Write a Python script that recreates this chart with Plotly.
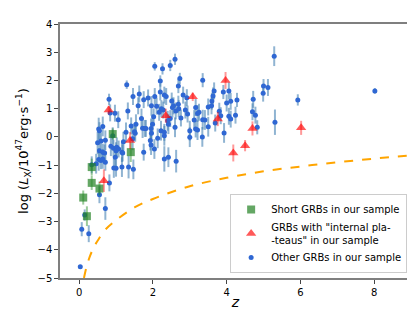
import plotly.graph_objects as go

# ---- data ----
blue_z = [0.03, 0.07, 0.26, 0.15, 0.55, 0.71, 0.82, 0.34, 0.46, 0.53, 0.59, 0.64, 0.71, 0.69, 0.55,
          0.64, 0.50, 0.59, 0.71, 0.53, 0.64, 0.55, 0.81, 0.84, 0.97, 1.06, 0.91, 0.86, 0.93, 1.02,
          1.00, 1.07, 1.16, 1.18, 0.98, 0.94, 1.00, 1.16, 1.34, 1.47, 1.20, 1.27, 1.29, 1.32, 1.41,
          1.45, 1.46, 1.52, 1.54, 1.50, 1.60, 1.63, 1.69, 1.72, 1.75, 1.75, 1.78, 1.81, 1.87, 1.93,
          1.95, 1.96, 1.95, 1.96, 1.99, 2.02, 2.04, 2.05, 2.05, 2.10, 2.13, 2.17, 2.20, 2.20, 2.22,
          2.26, 2.28, 2.31, 2.31, 2.31, 2.36, 2.42, 2.42, 2.47, 2.47, 2.51, 2.53, 2.60, 2.60, 2.63,
          2.69, 2.69, 2.73, 2.76, 2.82, 2.88, 2.92, 2.94, 3.00, 3.00, 3.12, 3.16, 3.21, 3.25, 3.34,
          3.35, 3.41, 3.50, 3.50, 3.59, 3.60, 3.63, 3.66, 3.69, 3.80, 3.84, 3.91, 3.93, 4.00, 4.06,
          4.06, 4.11, 4.11, 4.24, 4.28, 4.70, 4.72, 4.78, 4.83, 4.99, 5.00, 5.12, 5.29, 5.31, 5.93,
          8.02, 2.23, 2.40, 2.62, 2.70, 2.56, 3.21, 3.35, 3.16, 2.31]
blue_y = [-4.60, -3.27, -3.43, -2.77, -2.05, -2.54, -1.63, -0.99, -0.95, -0.80, -0.84, -0.78, -0.90, -0.57, -0.49,
          -0.54, -0.21, -0.15, -0.12, 0.28, 0.37, 0.22, 1.33, 0.85, 0.84, 0.61, 0.04, -0.33, -0.40, -0.37,
          -0.49, -0.43, -0.54, -0.57, -0.72, -1.10, -1.11, -1.07, -1.07, -1.15, -0.17, 0.16, 1.85, 0.92, 0.39,
          -0.07, 1.43, 0.13, 0.45, 0.18, 1.10, 1.52, 0.65, 0.31, 1.32, -0.54, 0.30, 0.30, 1.38, -0.13,
          -0.29, 0.13, 0.30, 1.10, 0.45, 0.71, -0.43, 2.50, 1.43, 1.09, -0.05, 0.87, 1.98, 1.59, 0.22,
          2.41, 0.95, 0.04, -0.78, 1.48, 1.43, -0.72, 0.45, 2.53, 0.65, 1.27, 1.04, 2.75, 0.34, -0.86,
          1.80, 1.16, 2.07, 0.67, 1.48, 0.95, 1.39, 0.81, 0.22, -0.01, 0.60, 1.04, 0.24, 0.87, 0.00,
          2.01, 0.60, 1.06, 0.36, 1.10, 1.27, 1.45, 1.63, 0.49, 0.91, 0.75, 1.59, 0.14, 1.20, 1.63,
          0.73, 1.26, 0.63, 0.77, 1.31, 0.89, 1.33, 0.77, 0.34, 1.55, 1.80, 1.75, 2.86, 0.52, 1.31,
          1.63, 1.00, 0.57, 0.92, 1.00, 1.10, 0.83, 0.61, 0.28, 0.16]
blue_err = [0.05, 0.25, 0.30, 0.20, 0.30, 0.40, 0.30, 0.30, 0.35, 0.40, 0.30, 0.35, 0.30, 0.30, 0.35,
            0.30, 0.40, 0.30, 0.35, 0.40, 0.35, 0.30, 0.20, 0.30, 0.30, 0.30, 0.30, 0.35, 0.30, 0.35,
            0.30, 0.30, 0.35, 0.30, 0.35, 0.35, 0.30, 0.35, 0.40, 0.35, 0.35, 0.35, 0.15, 0.30, 0.30,
            0.40, 0.30, 0.30, 0.35, 0.30, 0.30, 0.30, 0.35, 0.35, 0.30, 0.30, 0.30, 0.30, 0.30, 0.35,
            0.35, 0.30, 0.35, 0.35, 0.35, 0.30, 0.35, 0.15, 0.30, 0.30, 0.35, 0.30, 0.20, 0.30, 0.35,
            0.20, 0.30, 0.35, 0.45, 0.30, 0.30, 0.35, 0.35, 0.20, 0.30, 0.30, 0.35, 0.20, 0.35, 0.40,
            0.25, 0.30, 0.20, 0.30, 0.30, 0.30, 0.30, 0.30, 0.35, 0.35, 0.35, 0.30, 0.35, 0.30, 0.35,
            0.25, 0.35, 0.30, 0.35, 0.30, 0.30, 0.30, 0.30, 0.30, 0.30, 0.30, 0.25, 0.35, 0.30, 0.30,
            0.30, 0.30, 0.30, 0.30, 0.25, 0.30, 0.30, 0.30, 0.25, 0.30, 0.25, 0.30, 0.35, 0.45, 0.20,
            0.10, 0.30, 0.35, 0.30, 0.30, 0.30, 0.30, 0.35, 0.30, 0.30]

short_z = [0.11, 0.21, 0.34, 0.34, 0.55, 0.91, 1.40]
short_y = [-2.15, -2.81, -1.07, -1.63, -1.83, 0.10, -0.54]
short_err = [0.25, 0.35, 0.30, 0.25, 0.25, 0.20, 0.35]

plat_z = [0.67, 0.80, 1.38, 2.35, 3.08, 3.76, 3.97, 4.18, 4.50, 4.70, 6.02]
plat_y = [-1.55, 0.95, -0.13, 0.75, 1.42, 0.63, 2.00, -0.57, -0.31, 0.30, 0.32]
plat_err = [0.40, 0.15, 0.30, 0.25, 0.15, 0.25, 0.30, 0.30, 0.20, 0.25, 0.25]

limit_z = [0.13, 0.20, 0.30, 0.40, 0.50, 0.70, 1.00, 1.50, 2.00, 3.00, 4.00, 5.00, 6.00, 7.00, 8.00, 9.00]
limit_y = [-5.00, -4.60, -4.20, -3.90, -3.68, -3.30, -2.95, -2.50, -2.20, -1.75, -1.45, -1.22, -1.05, -0.90, -0.77, -0.66]

x_ticks = [0, 2, 4, 6, 8]
y_ticks = [-5, -4, -3, -2, -1, 0, 1, 2, 3, 4]

FONT = "DejaVu Sans"

fig = go.Figure()

fig.add_trace(go.Scatter(
    x=blue_z, y=blue_y, mode="markers",
    error_y=dict(type="data", array=blue_err, color="rgba(70,130,180,0.6)", thickness=2, width=0),
    marker=dict(color="#2f67d3", size=5, line=dict(width=0)),
    name="Other GRBs in our sample", legendrank=3,
))
fig.add_trace(go.Scatter(
    x=limit_z, y=limit_y, mode="lines", line=dict(color="#FFA500", width=2, dash="dash", shape="spline"),
    showlegend=False, hoverinfo="skip",
))
fig.add_trace(go.Scatter(
    x=short_z, y=short_y, mode="markers",
    error_y=dict(type="data", array=short_err, color="rgba(34,139,34,0.45)", thickness=2, width=0),
    marker=dict(color="rgba(34,130,34,0.7)", size=8, symbol="square", line=dict(width=0)),
    name="Short GRBs in our sample", legendrank=1,
))
fig.add_trace(go.Scatter(
    x=plat_z, y=plat_y, mode="markers",
    error_y=dict(type="data", array=plat_err, color="rgba(255,0,0,0.4)", thickness=2, width=0),
    marker=dict(color="rgba(255,0,0,0.65)", size=9, symbol="triangle-up", line=dict(width=0)),
    name='GRBs with "internal pla-<br>-teaus" in our sample', legendrank=2,
))

axis_common = dict(
    showline=True, mirror=True, linecolor="#7f7f7f", linewidth=1.5,
    ticks="outside", ticklen=4, tickcolor="#444", tickwidth=1,
    showgrid=False, zeroline=False,
    tickfont=dict(family=FONT, size=10, color="#000"),
)

fig.update_layout(
    width=415, height=311,
    margin=dict(l=52, r=10, t=14, b=41),
    plot_bgcolor="white", paper_bgcolor="white",
    font=dict(family=FONT, color="#000"),
    xaxis=dict(range=[-0.52, 9.0], tickvals=x_ticks, ticktext=[str(v) for v in x_ticks],
               title=dict(text="<i>z</i>", font=dict(family=FONT, size=14), standoff=0), **axis_common),
    yaxis=dict(range=[-5, 4], tickvals=y_ticks, ticktext=[str(v).replace("-", "−") for v in y_ticks],
               title=dict(text="log (<i>L</i><sub>X</sub>/10<sup>47</sup>erg·s<sup>−1</sup>)",
                          font=dict(family=FONT, size=13), standoff=6), **axis_common),
    legend=dict(x=0.989, y=0.02, xanchor="right", yanchor="bottom",
                bgcolor="rgba(255,255,255,0.85)", bordercolor="#cccccc", borderwidth=1,
                font=dict(family=FONT, size=10), tracegroupgap=0, itemwidth=30),
    showlegend=True,
)

fig.write_html("out.html")
